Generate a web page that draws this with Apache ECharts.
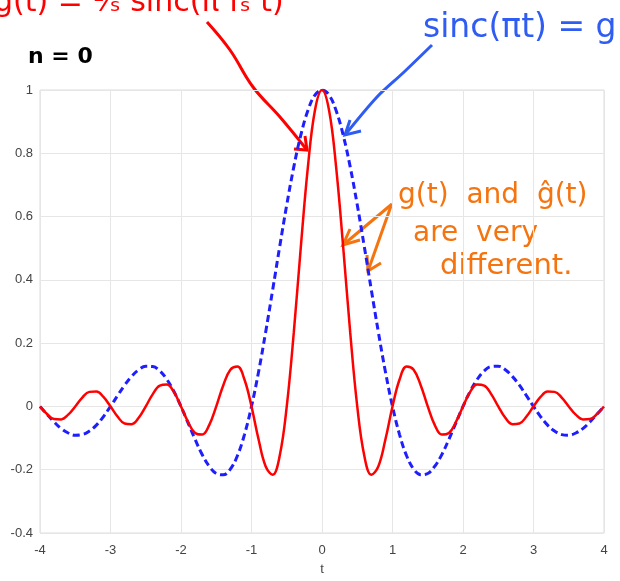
<!DOCTYPE html>
<html>
<head>
<meta charset="utf-8">
<script src="https://cdn.jsdelivr.net/npm/echarts@6/dist/echarts.min.js"></script>
<style>
  html, body { margin: 0; padding: 0; background: #fff; }
  #chart { width: 620px; height: 581px; }
</style>
</head>
<body>
<div id="chart"></div>
<script>
// sample times (t)
const tValues = [
  -4.0, -3.9, -3.8, -3.7, -3.6, -3.5, -3.4, -3.3, -3.2, -3.1,
  -3.0, -2.9, -2.8, -2.7, -2.6, -2.5, -2.4, -2.3, -2.2, -2.1,
  -2.0, -1.9, -1.8, -1.7, -1.6, -1.5, -1.4, -1.3, -1.2, -1.1,
  -1.0, -0.9, -0.8, -0.7, -0.6, -0.5, -0.4, -0.3, -0.2, -0.1,
  0.0, 0.1, 0.2, 0.3, 0.4, 0.5, 0.6, 0.7, 0.8, 0.9,
  1.0, 1.1, 1.2, 1.3, 1.4, 1.5, 1.6, 1.7, 1.8, 1.9,
  2.0, 2.1, 2.2, 2.3, 2.4, 2.5, 2.6, 2.7, 2.8, 2.9,
  3.0, 3.1, 3.2, 3.3, 3.4, 3.5, 3.6, 3.7, 3.8, 3.9,
  4.0
];

// red solid curve, g^(t)
const redValues = [
  0, -0.024, -0.040, -0.041, -0.026, 0, 0.028, 0.046, 0.047, 0.030,
  0, -0.032, -0.054, -0.056, -0.036, 0, 0.039, 0.066, 0.069, 0.045,
  0, -0.049, -0.084, -0.089, -0.059, 0, 0.067, 0.116, 0.126, 0.085,
  0, -0.104, -0.189, -0.216, -0.156, 0, 0.234, 0.505, 0.757, 0.936,
  1,
  0.936, 0.757, 0.505, 0.234, 0, -0.156, -0.216, -0.189, -0.104,
  0, 0.085, 0.126, 0.116, 0.067, 0, -0.059, -0.089, -0.084, -0.049,
  0, 0.045, 0.069, 0.066, 0.039, 0, -0.036, -0.056, -0.054, -0.032,
  0, 0.030, 0.047, 0.046, 0.028, 0, -0.026, -0.041, -0.040, -0.024,
  0
];

// blue dashed curve, sinc(pi t) = g(t)
const blueValues = [
  0, -0.025, -0.049, -0.070, -0.084, -0.091, -0.089, -0.078, -0.059, -0.032,
  0, 0.034, 0.067, 0.095, 0.116, 0.127, 0.126, 0.112, 0.085, 0.047,
  0, -0.052, -0.104, -0.152, -0.189, -0.212, -0.216, -0.198, -0.156, -0.089,
  0, 0.109, 0.234, 0.368, 0.505, 0.637, 0.757, 0.858, 0.935, 0.984,
  1,
  0.984, 0.935, 0.858, 0.757, 0.637, 0.505, 0.368, 0.234, 0.109,
  0, -0.089, -0.156, -0.198, -0.216, -0.212, -0.189, -0.152, -0.104, -0.052,
  0, 0.047, 0.085, 0.112, 0.126, 0.127, 0.116, 0.095, 0.067, 0.034,
  0, -0.032, -0.059, -0.078, -0.089, -0.091, -0.084, -0.070, -0.049, -0.025,
  0
];

const samplePoint = [[0, 1]];

const chart = echarts.init(document.getElementById("chart"));

const red = "#ff0000";
const blue = "#2f5cf2";
const orange = "#f5740f";
const font = "DejaVu Sans";

chart.setOption({
  animation: false,
  grid: { left: 40, right: 16, top: 90, bottom: 47, show: true, borderColor: "#dddddd", borderWidth: 1 },
  xAxis: {
    type: "value",
    min: -4, max: 4, interval: 1,
    name: "t", nameLocation: "middle", nameGap: 30,
    nameTextStyle: { color: "#444", fontSize: 13, fontFamily: "Liberation Sans" },
    axisLine: { show: false },
    axisTick: { show: false },
    axisLabel: { color: "#444", fontSize: 13, fontFamily: "Liberation Sans", margin: 11 },
    splitLine: { lineStyle: { color: "#e6e6e6" } }
  },
  yAxis: {
    type: "value",
    min: -0.4, max: 1, interval: 0.2,
    axisLine: { show: false },
    axisTick: { show: false },
    axisLabel: { color: "#444", fontSize: 13, fontFamily: "Liberation Sans", margin: 7 },
    splitLine: { lineStyle: { color: "#e6e6e6" } }
  },
  series: [
    {
      type: "line",
      data: tValues.map((t, i) => [t, blueValues[i]]),
      smooth: 0.4,
      symbol: "none",
      lineStyle: { color: "#1e1eff", width: 3, type: [7, 4] }
    },
    {
      type: "line",
      data: tValues.map((t, i) => [t, redValues[i]]),
      smooth: 0.4,
      symbol: "none",
      lineStyle: { color: red, width: 2.5 }
    },
    {
      type: "scatter",
      data: samplePoint,
      symbol: "emptyCircle",
      symbolSize: 10,
      itemStyle: { color: "#fff", borderColor: "#000", borderWidth: 2 }
    }
  ],
  graphic: [
    {
      type: "text", left: -6, top: -12,
      style: {
        text: "ĝ(t) = ¹⁄ₛ sinc(π fₛ t)",
        fill: red, font: "30px '" + font + "'"
      }
    },
    {
      type: "text", left: 423, top: 12,
      style: { text: "sinc(πt) = g", fill: blue, font: "33px '" + font + "'" }
    },
    {
      type: "text", left: 28, top: 46,
      style: { text: "n = 0", fill: "#000", font: "bold 22px '" + font + "'" }
    },
    {
      type: "text", left: 398, top: 182,
      style: { text: "g(t)  and  ĝ(t)", fill: orange, font: "28px '" + font + "'" }
    },
    {
      type: "text", left: 413, top: 220,
      style: { text: "are  very", fill: orange, font: "28px '" + font + "'" }
    },
    {
      type: "text", left: 440, top: 252,
      style: { text: "different.", fill: orange, font: "29px '" + font + "'" }
    },
    // red arrow
    {
      type: "polyline",
      shape: { points: [[207, 22], [230, 50], [253, 87], [280, 117], [307, 150]], smooth: 0.4 },
      style: { stroke: red, lineWidth: 3, fill: null }
    },
    {
      type: "polyline",
      shape: { points: [[305, 136], [307, 150], [294, 149]] },
      style: { stroke: red, lineWidth: 3, fill: null }
    },
    // blue arrow
    {
      type: "polyline",
      shape: { points: [[432, 45], [403, 73], [377, 97], [345, 135]], smooth: 0.3 },
      style: { stroke: blue, lineWidth: 3, fill: null }
    },
    {
      type: "polyline",
      shape: { points: [[350, 120], [345, 135], [361, 131]] },
      style: { stroke: blue, lineWidth: 3, fill: null }
    },
    // orange arrows
    {
      type: "polyline",
      shape: { points: [[392, 204], [343, 245]] },
      style: { stroke: orange, lineWidth: 3, fill: null }
    },
    {
      type: "polyline",
      shape: { points: [[350, 229], [343, 245], [360, 240]] },
      style: { stroke: orange, lineWidth: 3, fill: null }
    },
    {
      type: "polyline",
      shape: { points: [[391, 206], [368, 271]] },
      style: { stroke: orange, lineWidth: 3, fill: null }
    },
    {
      type: "polyline",
      shape: { points: [[367, 255], [368, 271], [381, 263]] },
      style: { stroke: orange, lineWidth: 3, fill: null }
    }
  ]
});
</script>
</body>
</html>
